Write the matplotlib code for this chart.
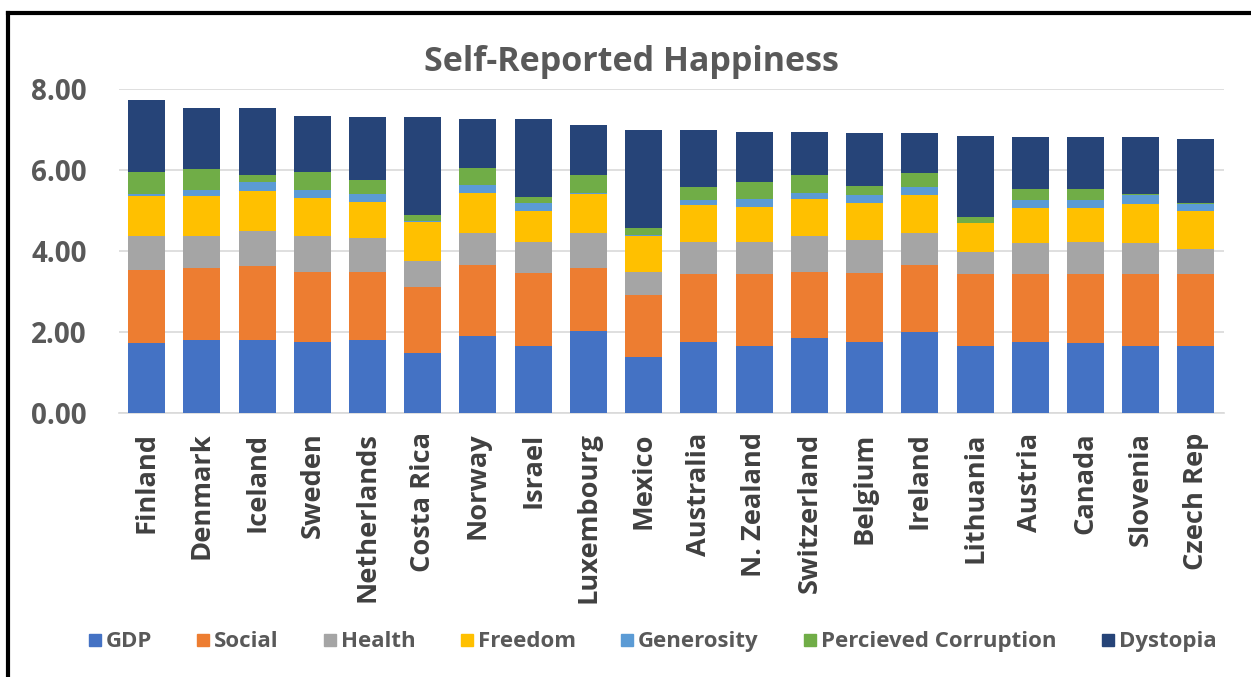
import matplotlib
matplotlib.use('Agg')
import matplotlib.pyplot as plt
from matplotlib.lines import Line2D
import numpy as np

# ── Datos ──
countries = ['Finland', 'Denmark', 'Iceland', 'Sweden', 'Netherlands', 'Costa Rica',
             'Norway', 'Israel', 'Luxembourg', 'Mexico', 'Australia', 'N. Zealand',
             'Switzerland', 'Belgium', 'Ireland', 'Lithuania', 'Austria', 'Canada',
             'Slovenia', 'Czech Rep']

gdp        = [1.72, 1.80, 1.80, 1.75, 1.80, 1.49, 1.90, 1.66, 2.03, 1.39,
              1.76, 1.66, 1.84, 1.76, 1.99, 1.66, 1.75, 1.72, 1.66, 1.66]
social     = [1.82, 1.78, 1.84, 1.73, 1.68, 1.62, 1.75, 1.80, 1.55, 1.53,
              1.66, 1.76, 1.64, 1.70, 1.66, 1.76, 1.67, 1.70, 1.76, 1.76]
health     = [0.83, 0.79, 0.85, 0.89, 0.85, 0.64, 0.80, 0.77, 0.87, 0.56,
              0.81, 0.81, 0.90, 0.82, 0.80, 0.55, 0.78, 0.81, 0.78, 0.64]
freedom    = [0.99, 0.99, 0.99, 0.93, 0.89, 0.97, 0.99, 0.77, 0.95, 0.90,
              0.90, 0.86, 0.90, 0.90, 0.93, 0.71, 0.85, 0.82, 0.97, 0.94]
generosity = [0.04, 0.14, 0.23, 0.20, 0.18, 0.03, 0.18, 0.19, 0.02, 0.02,
              0.13, 0.19, 0.16, 0.20, 0.21, 0.02, 0.21, 0.21, 0.21, 0.15]
corruption = [0.56, 0.52, 0.17, 0.46, 0.36, 0.15, 0.44, 0.15, 0.46, 0.16,
              0.32, 0.43, 0.44, 0.23, 0.33, 0.14, 0.27, 0.27, 0.02, 0.03]
dystopia   = [1.78, 1.51, 1.65, 1.38, 1.54, 2.40, 1.19, 1.91, 1.24, 2.43,
              1.41, 1.24, 1.07, 1.30, 0.99, 2.01, 1.28, 1.28, 1.41, 1.59]

series_names = ['GDP', 'Social', 'Health', 'Freedom', 'Generosity',
                'Percieved Corruption', 'Dystopia']
colors = ['#4472C4', '#ED7D31', '#A5A5A5', '#FFC000', '#5B9BD5', '#70AD47', '#264478']

# ── Estilo ──
plt.rcParams['font.family'] = ['Open Sans', 'DejaVu Sans']
text_grey = '#595959'

fig = plt.figure(figsize=(12.51, 6.77), dpi=100)
ax = fig.add_axes([0.0951, 0.390, 0.883, 0.4785])

x = np.arange(len(countries))
bottom = np.zeros(len(countries))
for name, vals, col in zip(series_names,
                           [gdp, social, health, freedom, generosity, corruption, dystopia],
                           colors):
    ax.bar(x, vals, bottom=bottom, width=0.67, color=col, label=name, zorder=3)
    bottom += np.array(vals)

ax.set_xlim(-0.5, len(countries) - 0.5)
ax.set_ylim(0, 8)
ax.set_yticks([0, 2, 4, 6, 8])
ax.set_yticklabels([f'{v:.2f}' for v in [0, 2, 4, 6, 8]])
ax.set_xticks(x)
ax.set_xticklabels(countries, rotation=90)

ax.grid(axis='y', color='#D9D9D9', linewidth=1.2, zorder=0)
for s in ['top', 'right', 'left']:
    ax.spines[s].set_visible(False)
ax.spines['bottom'].set_color('#D9D9D9')
ax.spines['bottom'].set_linewidth(1.2)
ax.tick_params(axis='both', length=0)
ax.tick_params(axis='y', pad=23, labelsize=20, labelcolor=text_grey)
ax.tick_params(axis='x', pad=14, labelsize=19.6, labelcolor='#404040')
for lab in ax.get_yticklabels() + ax.get_xticklabels():
    lab.set_fontweight('bold')

fig.text(0.505, 0.908, 'Self-Reported Happiness', ha='center', va='center',
         fontsize=24.5, fontweight='bold', color=text_grey)

# ── Leyenda ──
handles = [Line2D([0], [0], marker='s', linestyle='none', markersize=9,
                  markerfacecolor=c, markeredgecolor=c) for c in colors]
fig.legend(handles, series_names, loc='center', bbox_to_anchor=(0.52, 0.052),
           ncol=7, frameon=False, handletextpad=0.05, columnspacing=1.85,
           handlelength=0.9, prop={'weight': 'bold', 'size': 16},
           labelcolor=text_grey)

# ── Marco ──
fig.add_artist(Line2D([8 / 1251, 8 / 1251], [0, 1 - 13 / 677],
                      color='black', linewidth=3, transform=fig.transFigure))
fig.add_artist(Line2D([8 / 1251, 1], [1 - 13 / 677, 1 - 13 / 677],
                      color='black', linewidth=3, transform=fig.transFigure))

fig.savefig('out.png', dpi=100)
